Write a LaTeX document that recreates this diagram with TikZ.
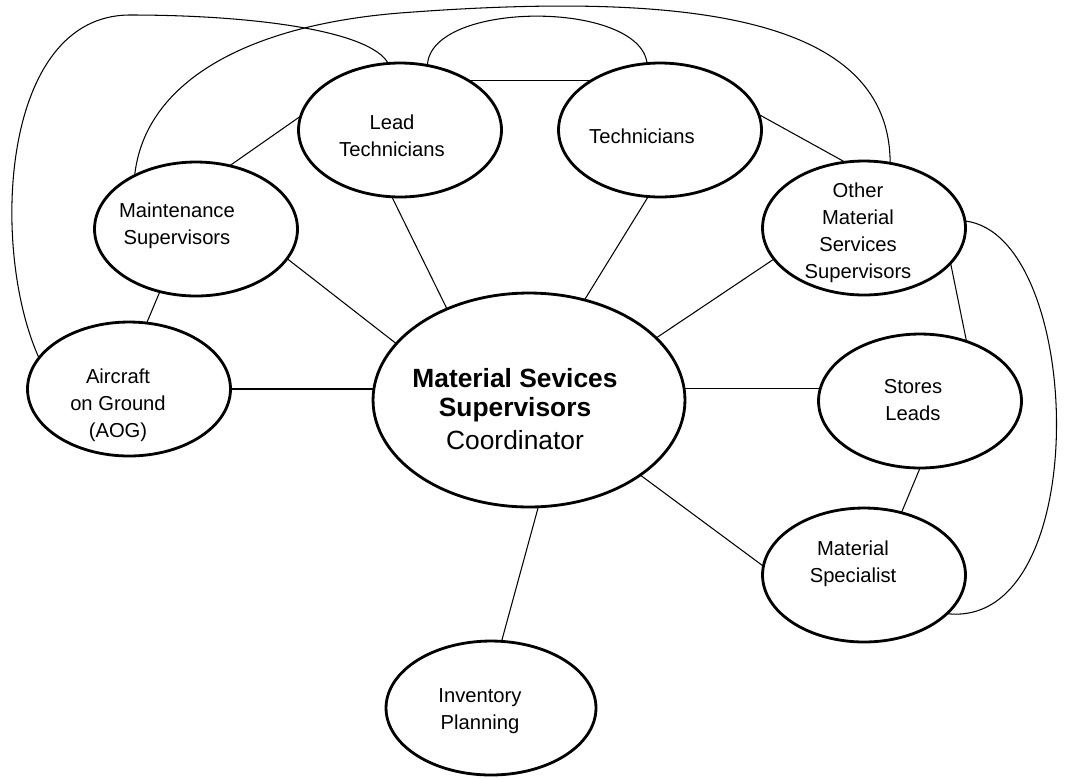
\documentclass[tikz,border=0pt]{standalone}
\usepackage{fontspec}
\setmainfont{Liberation Sans}
\usepackage{xcolor}
\usepackage{tikz}
\usetikzlibrary{shapes.geometric}
\definecolor{ink}{HTML}{000000}
\tikzset{
  bubble/.style={draw=ink,ellipse,line width=1.6pt,inner sep=0pt,outer sep=0pt,minimum width=4.06cm,minimum height=2.68cm},
  hub/.style={bubble,minimum width=6.24cm,minimum height=4.28cm},
  txt/.style={align=center,text=ink,inner sep=0pt,font=\fontsize{11.5}{15.4}\selectfont},
  hubtxt/.style={align=center,text=ink,inner sep=0pt,font=\fontsize{15}{16.5}\selectfont},
  link/.style={draw=ink,line width=0.6pt}
}

\begin{document}
\begin{tikzpicture}[x=0.02cm,y=-0.02cm]
  \useasboundingbox (0,0) rectangle (1070,778);
  % bubbles
  \node[hub]    (msc)   at (529,400) {};
  \node[bubble] (lt)    at (400,130) {};
  \node[bubble] (tech)  at (660,130) {};
  \node[bubble] (ms)    at (196,229) {};
  \node[bubble] (oms)   at (864,228) {};
  \node[bubble] (aog)   at (129,389) {};
  \node[bubble] (sl)    at (920,401) {};
  \node[bubble] (mspec) at (864,575) {};
  \node[bubble,minimum width=4.2cm] (ip) at (491,708) {};
  % texts
  \node[hubtxt] (msc-t) at (515,409) {\textbf{Material Sevices}\\\textbf{Supervisors}\\[2pt]Coordinator};
  \node[txt] (lt-t)    at (392,136) {Lead\\Technicians};
  \node[txt] (tech-t)  at (642,136) {Technicians};
  \node[txt] (ms-t)    at (177,226) {Maintenance\\Supervisors};
  \node[txt] (oms-t)   at (858,233) {Other\\Material\\Services\\Supervisors};
  \node[txt] (aog-t)   at (118,405) {Aircraft\\on Ground\\(AOG)};
  \node[txt] (sl-t)    at (913,400) {Stores\\Leads};
  \node[txt] (mspec-t) at (853,564) {Material\\Specialist};
  \node[txt] (ip-t)    at (480,711) {Inventory\\Planning};
  % straight links
  \draw[link] (lt.36) -- (tech.144);
  \draw[link] (ms.62) -- (lt.172);
  \draw[link] (ms.-18) -- (msc.157);
  \draw[link] (lt.263) -- (msc.132);
  \draw[link] (ms.240) -- (aog.75);
  \draw[link] (aog.east) -- (aog.east -| msc.west);
  \draw[link] (tech.9) -- (oms.106);
  \draw[link] (tech.260) -- (msc.61);
  \draw[link] (oms.199) -- (msc.26);
  \draw[link] (sl.173) -- (sl.173 -| msc.east);
  \draw[link] (oms.-22) -- (sl.52);
  \draw[link] (sl.south) -- (mspec.59);
  \draw[link] (msc.-34) -- (mspec.175);
  \draw[link] (msc.-85) -- (ip.81);
  % long curved links
  \draw[link] (aog.161) .. controls (-10,250) and (0,15) .. (130,15) .. controls (250,15) and (370,30) .. (lt.100);
  \draw[link] (ms.139) .. controls (145,80) and (250,25) .. (400,13) .. controls (700,-10) and (890,20) .. (oms.68);
  \draw[link] (lt.67) .. controls (430,0) and (640,0) .. (tech.101);
  \draw[link] (oms.4) .. controls (1085,235) and (1095,630) .. (mspec.-25);
\end{tikzpicture}
\end{document}
